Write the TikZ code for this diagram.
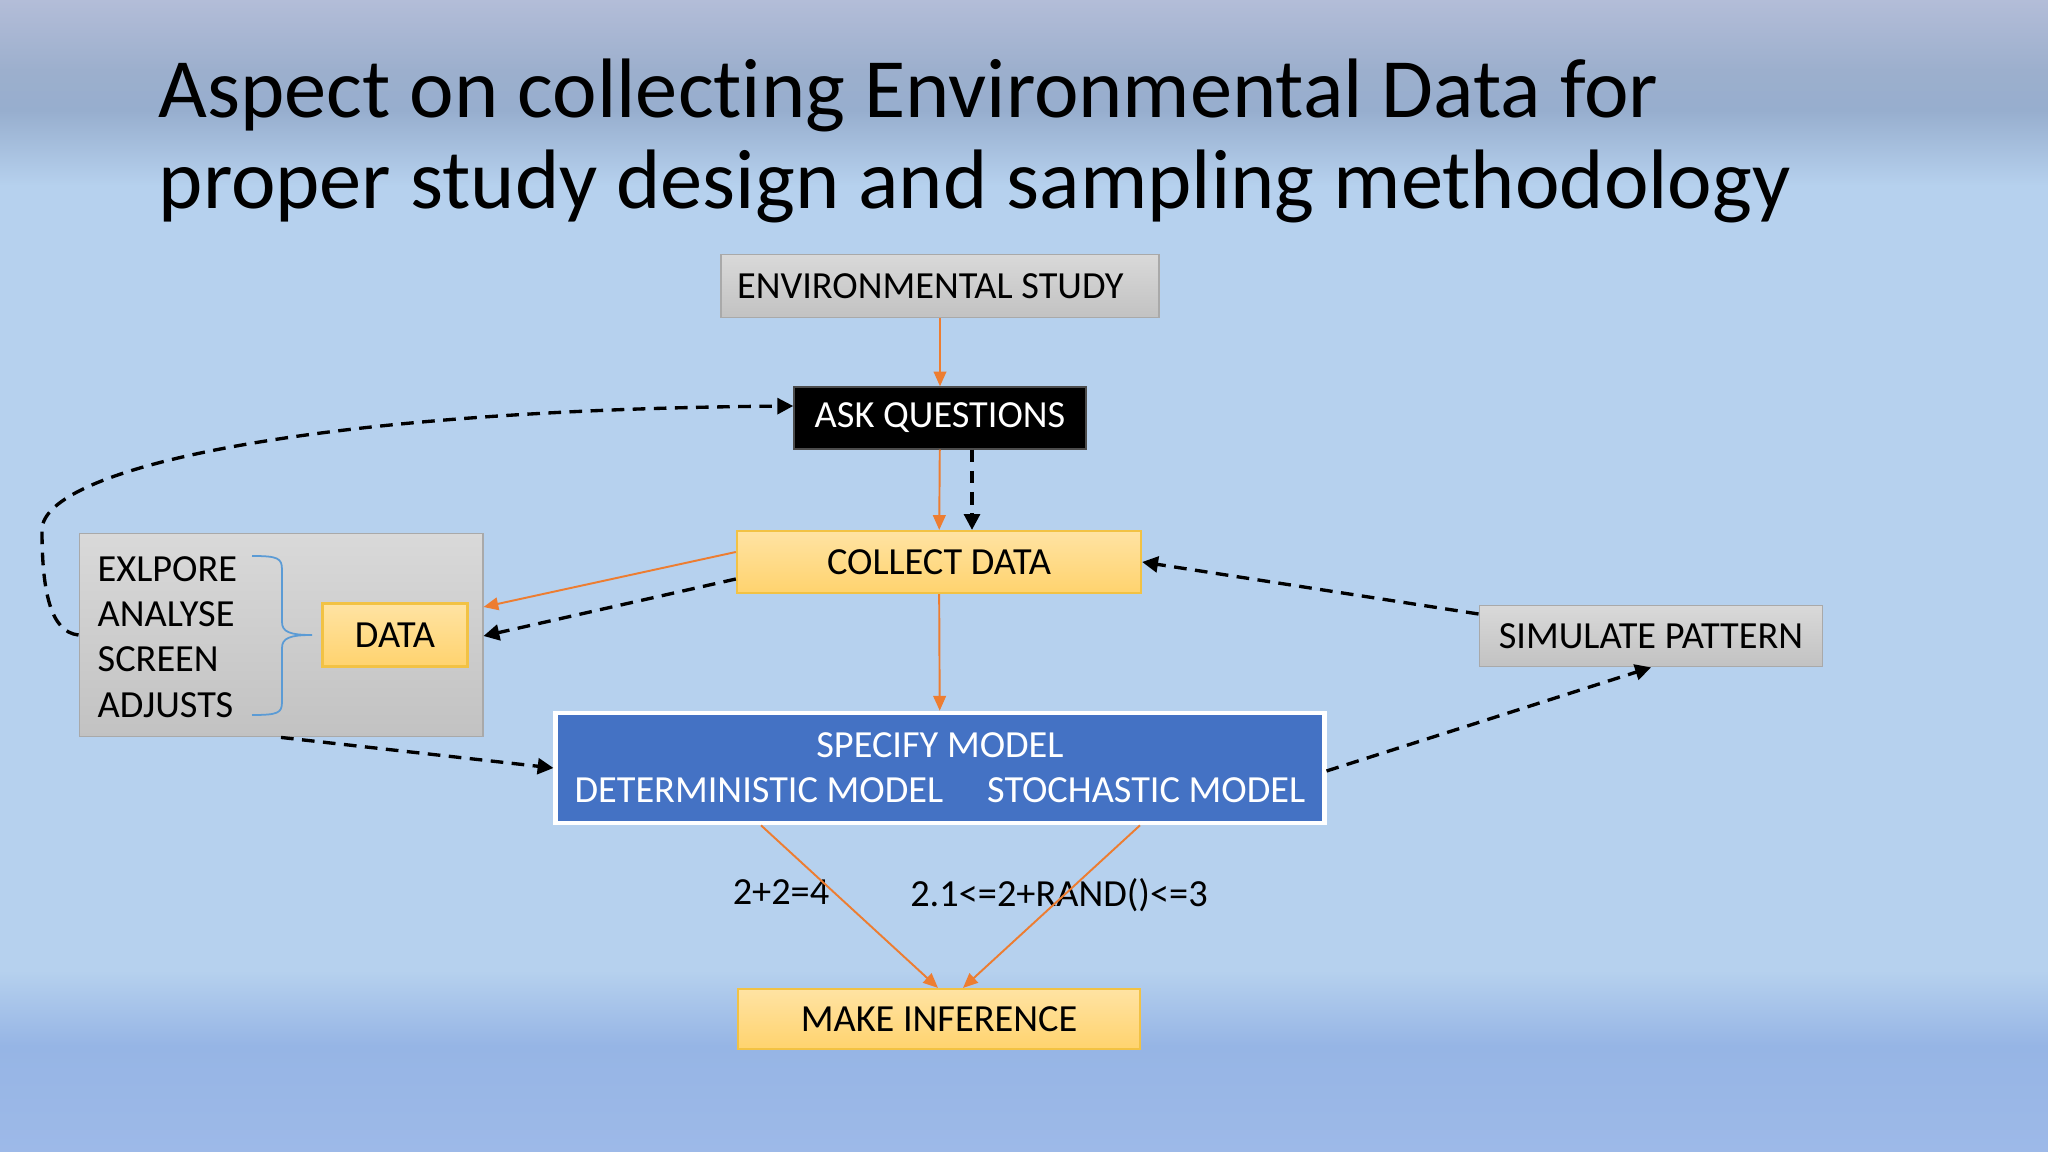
\documentclass[tikz,border=0pt]{standalone}
\usepackage{fontspec}
\setmainfont{Carlito}[Ligatures=NoCommon]
\usetikzlibrary{positioning,arrows.meta,calc}

\definecolor{bgmain}{HTML}{B6D1EE}
\definecolor{bgtopa}{HTML}{B3BDD8}
\definecolor{bgtopb}{HTML}{9CAFCD}
\definecolor{bgtopc}{HTML}{97AECE}
\definecolor{bgbota}{HTML}{96B5E5}
\definecolor{bgbotb}{HTML}{9DB9E8}
\definecolor{graytop}{HTML}{D9D9D9}
\definecolor{graybot}{HTML}{C2C2C2}
\definecolor{graybd}{HTML}{A9A9A9}
\definecolor{goldtop}{HTML}{FFE3A3}
\definecolor{goldbot}{HTML}{FFD36E}
\definecolor{goldbd}{HTML}{F2C244}
\definecolor{modelblue}{HTML}{4472C4}
\definecolor{flow}{HTML}{ED7D31}
\definecolor{bracecol}{HTML}{5B9BD5}

\tikzset{
  greybox/.style={draw=graybd,line width=0.5pt,top color=graytop,bottom color=graybot,inner sep=0pt,font=\fontsize{10.9}{12.9}\selectfont},
  goldbox/.style={draw=goldbd,line width=0.6pt,top color=goldtop,bottom color=goldbot,inner sep=0pt,font=\fontsize{10.9}{12.9}\selectfont},
  flowline/.style={draw=flow,line width=0.55pt,-{Triangle[length=4.2pt,width=3.6pt]}},
  loopline/.style={draw=black,line width=0.95pt,dash pattern=on 3.6pt off 2.4pt,-{Triangle[length=4.5pt,width=4.5pt]}},
}

\begin{document}
\begin{tikzpicture}[x=0.01cm,y=-0.01cm]
\useasboundingbox (0,0) rectangle (2048,1152);

% background
\shade[top color=bgtopa,bottom color=bgtopb] (0,0) rectangle (2048,71);
\shade[top color=bgtopb,bottom color=bgtopc] (0,70) rectangle (2048,111);
\shade[top color=bgtopc,bottom color=bgmain] (0,110) rectangle (2048,186);
\fill[bgmain] (0,185) rectangle (2048,971);
\shade[top color=bgmain,bottom color=bgbota] (0,970) rectangle (2048,1046);
\shade[top color=bgbota,bottom color=bgbotb] (0,1045) rectangle (2048,1152);

\node[anchor=base west,align=left,inner sep=0pt,font=\fontsize{24}{25.9}\selectfont] (title) at (158,209)
  {Aspect on collecting Environmental Data for\\proper study design and sampling methodology};

\node[greybox,minimum width=4.38cm,minimum height=0.63cm] (env) at (940,286) {ENVIRONMENTAL STUDY\hspace*{5.5pt}};

\node[draw=black!70,fill=black,text=white,inner sep=0pt,minimum width=2.92cm,minimum height=0.62cm,font=\fontsize{10.9}{12.9}\selectfont] (ask) at (940,418) {ASK QUESTIONS};

\node[goldbox,minimum width=4.04cm,minimum height=0.62cm] (collect) at (939,562) {COLLECT DATA};

\node[greybox,minimum width=4.03cm,minimum height=2.03cm] (tools) at (281,635) {};

\node[anchor=west,align=left,inner sep=0pt,font=\fontsize{10.9}{12.9}\selectfont] (steps) at (97,637)
  {EXLPORE\\ANALYSE\\SCREEN\\ADJUSTS};

\node[goldbox,minimum width=1.45cm,minimum height=0.63cm] (data) at (395,635) {DATA};

\draw[bracecol,line width=0.5pt] (252,556) .. controls (278,556) and (282,558) .. (282,570)
  -- (282,622) .. controls (282,632) and (290,635) .. (312,635)
  .. controls (290,635) and (282,638) .. (282,648)
  -- (282,702) .. controls (282,713) and (278,715) .. (252,715);

\node[draw=white,line width=1.3pt,fill=modelblue,text=white,inner sep=0pt,minimum width=7.68cm,minimum height=1.10cm,align=center,font=\fontsize{10.9}{12.9}\selectfont] (specify) at (940,768)
  {SPECIFY MODEL\\DETERMINISTIC MODEL\hspace{12.5pt}STOCHASTIC MODEL};

\node[greybox,minimum width=3.43cm,minimum height=0.61cm] (simulate) at (1651,636) {SIMULATE PATTERN};

\node[goldbox,minimum width=4.01cm,minimum height=0.60cm] (infer) at (939,1019) {MAKE INFERENCE};

\node[font=\fontsize{10.9}{12.9}\selectfont] (det) at (781,892) {2+2=4};
\node[font=\fontsize{10.9}{12.9}\selectfont] (sto) at (1059,895) {2.1<=2+RAND()<=3};

% main flow
\draw[flowline] (env) -- (ask);
\draw[flowline] (ask) -- (collect);
\draw[flowline] (collect) -- (specify);
\draw[flowline] ($(collect.west)+(0,-10)$) -- ($(tools.east)+(0,-28)$);
\draw[flowline] ($(specify.south)+(-179,0)$) -- ($(infer.north)+(-1,0)$);
\draw[flowline] ($(specify.south)+(200,0)$) -- ($(infer.north)+(24,0)$);

% feedback loops
\draw[loopline] ($(ask.south)+(32,0)$) -- ($(collect.north)+(33,0)$);
\draw[loopline] ($(collect.west)+(0,17)$) -- ($(tools.east)+(0,1)$);
\draw[loopline] (tools.south) -- (specify.west);
\draw[loopline] ($(simulate.west)+(0,-22)$) -- (collect.east);
\draw[loopline] ($(specify.east)+(0,3)$) -- (simulate.south);
\draw[loopline] (tools.west) .. controls (50,632) and (42,590) .. (42,530)
  .. controls (42,470) and (300,410) .. ($(ask.west)+(0,-12)$);
\end{tikzpicture}
\end{document}
